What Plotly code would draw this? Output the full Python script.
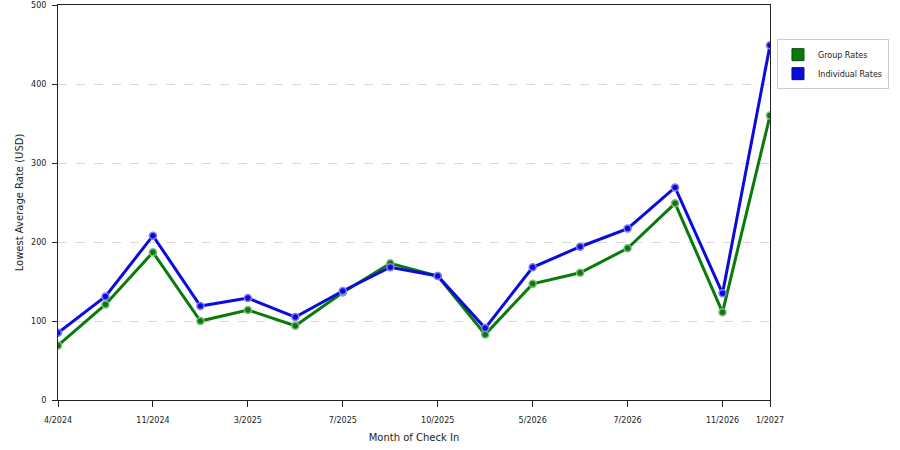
import plotly.graph_objects as go

# month index along the x axis, labels only where the chart shows them
month_idx = list(range(16))
tick_pos = [0, 2, 4, 6, 8, 10, 12, 14, 15]
tick_labels = ["4/2024", "11/2024", "3/2025", "7/2025", "10/2025",
               "5/2026", "7/2026", "11/2026", "1/2027"]

group_rates = [69, 121, 187, 100, 114, 94, 136, 173, 157, 83, 147, 161, 192, 249, 111, 360]
individual_rates = [85, 131, 208, 119, 129, 105, 138, 168, 157, 91, 168, 194, 217, 269, 135, 449]

green = "#0a7a0a"
blue = "#0b0bdc"

fig = go.Figure()
fig.add_trace(go.Scatter(x=month_idx, y=group_rates, name="Group Rates",
                         mode="lines+markers", showlegend=False,
                         line=dict(color=green, width=3),
                         marker=dict(size=7, color=green, line=dict(color="#80b880", width=1.5))))
fig.add_trace(go.Scatter(x=month_idx, y=individual_rates, name="Individual Rates",
                         mode="lines+markers", showlegend=False,
                         line=dict(color=blue, width=3),
                         marker=dict(size=7, color=blue, line=dict(color="#8080f0", width=1.5))))

# square swatches for the legend
for name, col, edge in [("Group Rates", green, "#0a4a0a"), ("Individual Rates", blue, "#0a0a80")]:
    fig.add_trace(go.Scatter(x=[None], y=[None], name=name, mode="markers",
                             marker=dict(symbol="square", size=12, color=col,
                                         line=dict(color=edge, width=1))))

fig.update_layout(
    width=900, height=450,
    margin=dict(l=58, r=130, t=5, b=50),
    plot_bgcolor="white", paper_bgcolor="white",
    font=dict(family="DejaVu Sans", size=8, color="#222"),
    legend=dict(xref="container", yref="container",
                x=0.8633, y=0.913, xanchor="left", yanchor="top",
                bordercolor="#cccccc", borderwidth=1,
                font=dict(size=8), itemwidth=30,
                tracegroupgap=0),
    showlegend=True,
)
fig.update_xaxes(range=[0, 15], tickvals=tick_pos, ticktext=tick_labels,
                 showgrid=False, zeroline=False, automargin=False,
                 showline=True, linecolor="#222", linewidth=1, mirror=True,
                 ticks="outside", ticklen=6, tickcolor="#222",
                 ticklabelstandoff=6,
                 title=dict(text="Month of Check In", standoff=10))
fig.update_yaxes(range=[0, 500], tickvals=[0, 100, 200, 300, 400, 500],
                 showgrid=True, gridcolor="#d8d8d8", griddash="dash",
                 zeroline=False, automargin=False,
                 showline=True, linecolor="#222", linewidth=1, mirror=True,
                 ticks="outside", ticklen=5, tickcolor="#222",
                 ticklabelstandoff=4,
                 title=dict(text="Lowest Average Rate (USD)", standoff=5))

# drop the page's default body margin so the figure sits at the window corner
fig.write_html("out.html", config={"displayModeBar": False},
               post_script="document.body.style.margin='0';")
